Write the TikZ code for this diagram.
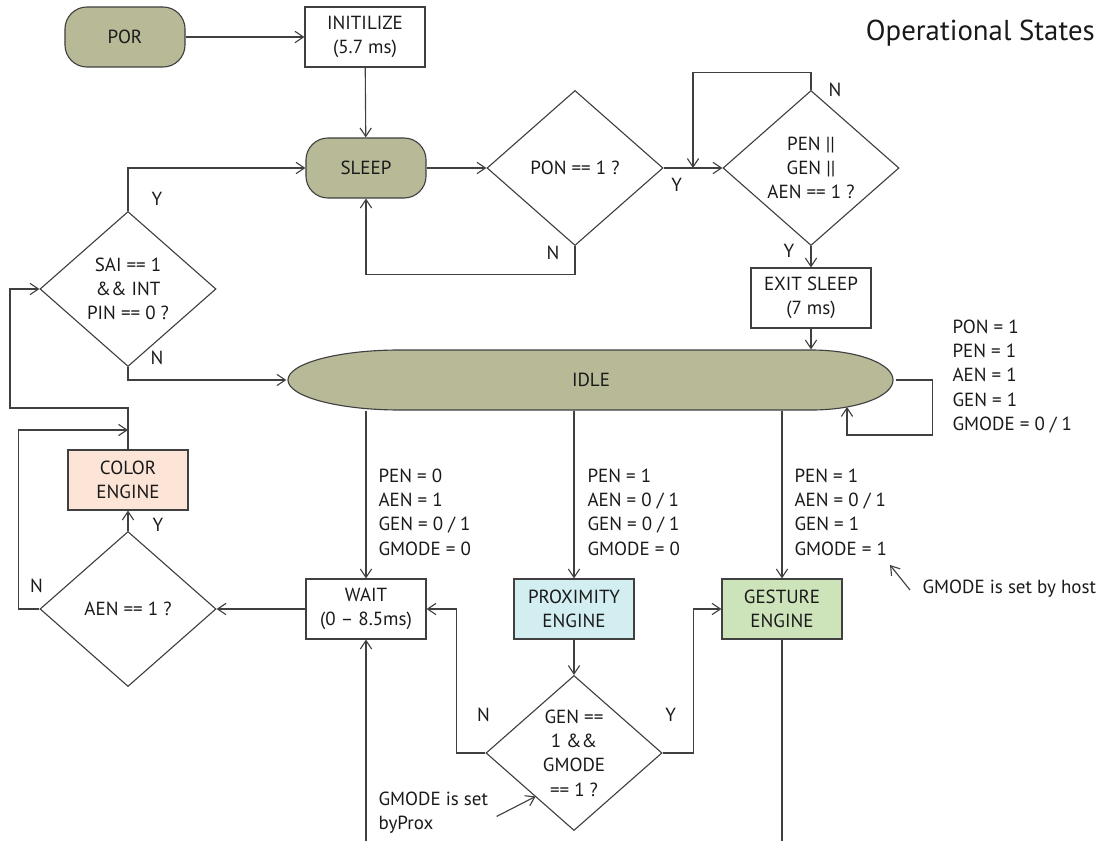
\documentclass[tikz,border=0pt]{standalone}
\usepackage{fontspec}
\setmainfont{PT Sans}
\usepackage{xcolor}
\usepackage{tikz}
\usetikzlibrary{shapes, arrows.meta, positioning, calc}

\definecolor{statefill}{HTML}{B8B996}
\definecolor{colorfill}{HTML}{FCE4D6}
\definecolor{proxfill}{HTML}{D2EEF1}
\definecolor{gestfill}{HTML}{CDE4BB}
\definecolor{linecol}{HTML}{404040}
\definecolor{textcol}{HTML}{1A1A1A}

\begin{document}
\begin{tikzpicture}[x=0.025cm, y=-0.025cm, line width=0.8pt,
    every node/.style={font=\fontsize{13.5}{17.3}\selectfont, text=textcol},
    box/.style={draw=linecol, minimum width=3cm, minimum height=1.5cm, align=center, inner sep=0pt},
    state/.style={box, rounded corners=0.55cm, fill=statefill},
    test/.style={diamond, draw=linecol, minimum width=4.4cm, minimum height=3.875cm, align=center, inner sep=0pt},
    flow/.style={draw=linecol, -{Straight Barb[length=6pt, width=8pt]}},
    cond/.style={align=left, anchor=north west, inner sep=0pt}]
             \useasboundingbox (0,0) rectangle (1103,841);
             \node[anchor=north east, font=\fontsize{20.5}{24}\selectfont] (title) at (1100,15) {Operational States};
             \node[state] (por) at (125,37) {POR};
             \node[box] (init) at (365,37) {INITILIZE\\(5.7 ms)};
             \node[state] (sleep) at (366,168) {SLEEP};
             \node[test] (pon) at (575,168) {PON == 1 ?};
             \node[test] (anyen) at (811,168) {PEN ||\\GEN ||\\AEN == 1 ?};
             \node[box] (exit) at (811,298) {EXIT SLEEP\\(7 ms)};
             \node[test] (sai) at (128,289) {SAI == 1\\\&\& INT\\PIN == 0 ?};
             \draw[draw=linecol, fill=statefill] (400,350) -- (811,350) arc[start angle=90, end angle=-90, x radius=2.05cm, y radius=0.75cm] -- (400,410) arc[start angle=270, end angle=90, x radius=2.8cm, y radius=0.75cm] -- cycle;
             \node[minimum width=15.2cm, minimum height=1.5cm, inner sep=0pt] (idle) at (591,380) {IDLE};
             \node[box, fill=colorfill] (color) at (128,480) {COLOR\\ENGINE};
             \node[test] (aen) at (128,609) {AEN == 1 ?};
             \node[box] (wait) at (366,609) {WAIT\\(0 – 8.5ms)};
             \node[box, fill=proxfill] (prox) at (574,609) {PROXIMITY\\ENGINE};
             \node[box, fill=gestfill] (gest) at (782,609) {GESTURE\\ENGINE};
             \node[test] (gmode) at (574,753) {GEN ==\\1 \&\&\\GMODE\\== 1 ?};
             \node[cond] (idlecond) at (952,319) {PON = 1\\PEN = 1\\AEN = 1\\GEN = 1\\GMODE = 0 / 1};
             \node[cond] (waitcond) at (378,468) {PEN = 0\\AEN = 1\\GEN = 0 / 1\\GMODE = 0};
             \node[cond] (proxcond) at (587,468) {PEN = 1\\AEN = 0 / 1\\GEN = 0 / 1\\GMODE = 0};
             \node[cond] (gestcond) at (794,468) {PEN = 1\\AEN = 0 / 1\\GEN = 1\\GMODE = 1};
             \node[anchor=west, inner sep=0pt] (hostnote) at (922,589) {GMODE is set by host};
             \node[cond] (proxnote) at (378,791) {GMODE is set\\byProx};
             \coordinate (join) at (693,168);
             \coordinate (merge) at (128,430);
             \coordinate (idleback) at (847,407);
             \coordinate (botl) at (366,841);
             \coordinate (botr) at (782,841);
             \draw[flow] (por) -- (init);
             \draw[flow] (init) -- (sleep);
             \draw[flow] (sleep) -- (pon);
             \draw[flow] (pon.east) node[shift={(13,17)}] {Y} -- (anyen.west);
             \draw[flow] (pon.south) node[shift={(-22,7)}] {N} -- ++(0,28) -| (sleep.south);
             \draw[flow] (anyen.north) node[shift={(24,0)}] {N} -- ++(0,-17) -| (join);
             \draw[flow] (anyen.south) node[shift={(-22,5)}] {Y} -- (exit.north);
             \draw[flow] (exit.south) -- (idle.north -| exit.south);
             \draw[flow] (sai.north) node[shift={(29,-12)}] {Y} |- (sleep.west);
             \draw[flow] (sai.south) node[shift={(29,-9)}] {N} |- (idle.west);
             \draw[flow] (idle.east) -| ++(37,55) -| (idleback);
             \draw[flow] (idle.south -| wait.north) -- (wait.north);
             \draw[flow] (idle.south -| prox.north) -- (prox.north);
             \draw[flow] (idle.south -| gest.north) -- (gest.north);
             \draw[flow] (wait.west) -- (aen.east);
             \draw[flow] (aen.north) node[shift={(30,-6)}] {Y} -- (color.south);
             \draw[flow] (aen.west) node[shift={(-3,-23)}] {N} -- ++(-21,0) |- (merge);
             \draw[flow] (color.north) |- (10,408) |- (sai.west);
             \draw[flow] (prox.south) -- (gmode.north);
             \draw[flow] (gmode.west) node[shift={(-2,-38)}] {N} -- ++(-29,0) |- (wait.east);
             \draw[flow] (gmode.east) node[shift={(8,-38)}] {Y} -- ++(31,0) |- (gest.west);
             \draw[flow] (botl) -- (wait.south);
             \draw[draw=linecol] (gest.south) -- (botr);
             \draw[flow] ([shift={(-12,1)}]hostnote.west) -- ++(-20,-25);
             \draw[flow] ([shift={(8,4)}]proxnote.east) -- ++(39,-20);
\end{tikzpicture}
\end{document}
